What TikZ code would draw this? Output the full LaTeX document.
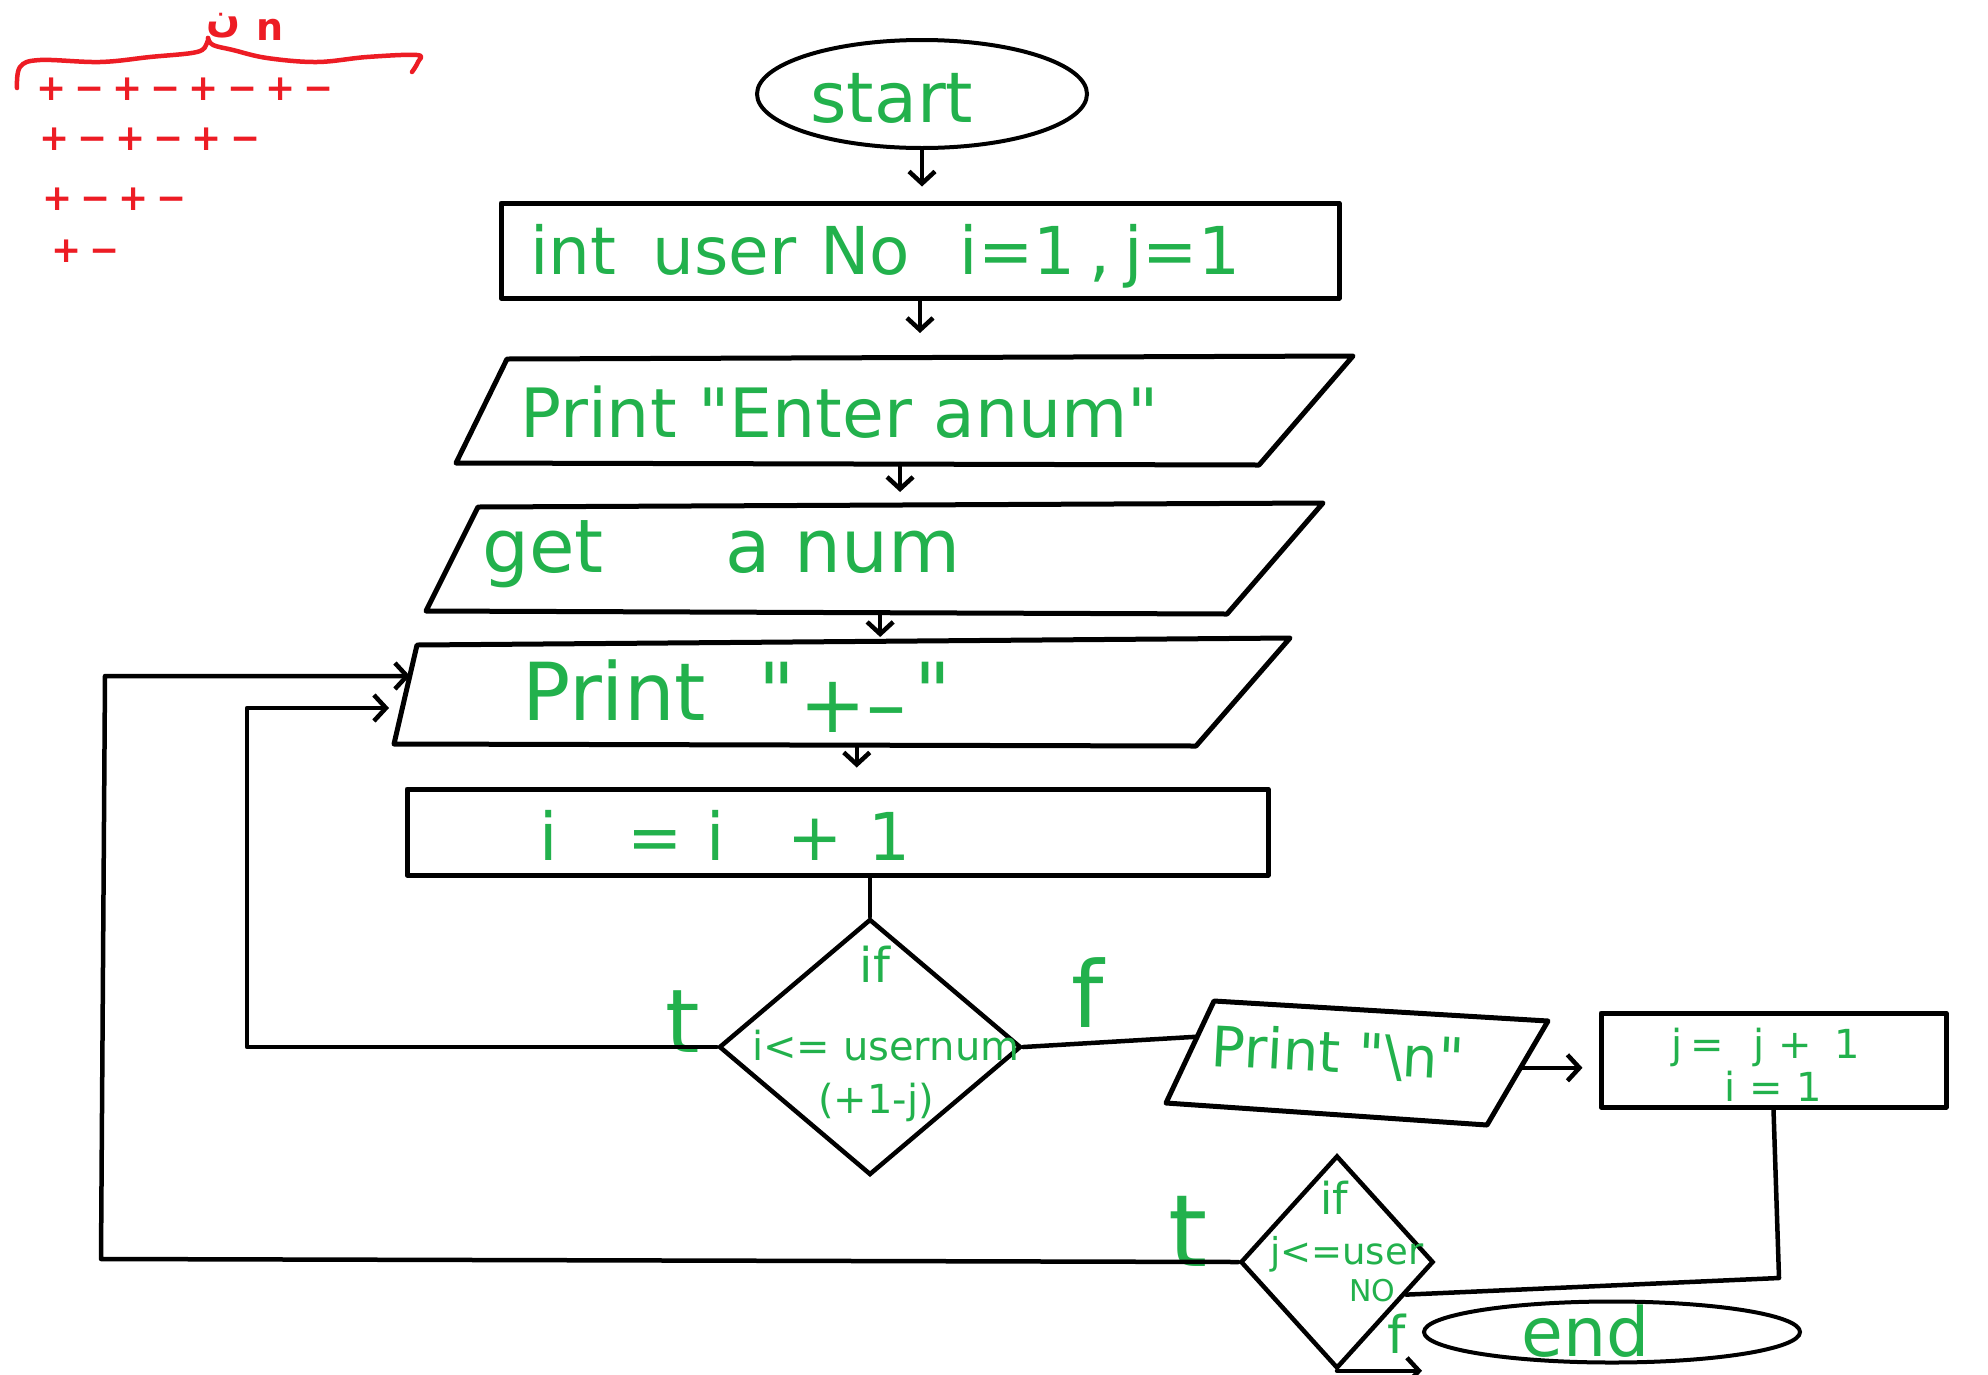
\documentclass[tikz,border=0pt]{standalone}
\usepackage{fontspec}
\setmainfont{DejaVu Sans}
\newfontfamily\arabicfont[Script=Arabic]{DejaVu Sans}
\TeXXeTstate=1
\usetikzlibrary{shapes.geometric,arrows.meta,calc}
\definecolor{pgreen}{RGB}{34,177,76}
\definecolor{pred}{RGB}{237,28,36}
\newcommand{\qq}{\textquotedbl}
\tikzset{
 fs/.style={font=\fontsize{#1}{#1}\selectfont},
 gtxt/.style={text=pgreen, inner sep=0pt, fs=#1},
 rtxt/.style={text=pred, inner sep=0pt, font=\fontsize{#1}{#1}\selectfont\bfseries},
 shp/.style={draw=black, line width=5pt, line join=round, inner sep=0pt},
 rectbox/.style={shp, rectangle},
 dia/.style={draw=black, line width=4.5pt, diamond, inner sep=0pt},
 term/.style={draw=black, line width=4pt, ellipse, inner sep=0pt},
 conn/.style={line width=4.5pt, line join=round, line cap=round},
 arr/.style={conn, -{Straight Barb[length=12pt,width=26pt,line width=4.5pt]}},
}
\begin{document}
\begin{tikzpicture}[x=1pt,y=-1pt]
\useasboundingbox (0,0) rectangle (1988,1374);
\fill[white] (0,0) rectangle (1988,1374);

% red notes
\draw[pred, line width=4.5pt, line cap=round, line join=round] plot[smooth, tension=0.6] coordinates {(17,88) (20,67) (40,60) (100,62) (150,57) (197,52) (207,43) (208,38)};
\draw[pred, line width=4.5pt, line cap=round, line join=round] plot[smooth, tension=0.6] coordinates {(208,38) (213,45) (233,50) (267,58) (317,62) (367,57) (417,55) (418,62) (412,72)};
\node[rtxt=40] (ar) at (224,26) {\arabicfont\beginR ن\endR};
\node[rtxt=38] (rn) at (270,30) {n};
\node[rtxt=36, anchor=west] (r1) at (36,89) {+\hspace{8pt}−\hspace{8pt}+\hspace{8pt}−\hspace{8pt}+\hspace{8pt}−\hspace{8pt}+\hspace{8pt}−};
\node[rtxt=36, anchor=west] (r2) at (39,139) {+\hspace{8pt}−\hspace{8pt}+\hspace{8pt}−\hspace{8pt}+\hspace{8pt}−};
\node[rtxt=36, anchor=west] (r3) at (42,199) {+\hspace{8pt}−\hspace{8pt}+\hspace{8pt}−};
\node[rtxt=36, anchor=west] (r4) at (51,251) {+\hspace{8pt}−};

% corner points of the slanted boxes
\coordinate (p1tl) at (507,359); \coordinate (p1tr) at (1353,356);
\coordinate (p1br) at (1259,465); \coordinate (p1bl) at (456,463);
\coordinate (p2tl) at (478,507); \coordinate (p2tr) at (1323,503);
\coordinate (p2br) at (1227,614); \coordinate (p2bl) at (426,611);
\coordinate (p3tl) at (417,645); \coordinate (p3tr) at (1290,638);
\coordinate (p3br) at (1196,746); \coordinate (p3bl) at (394,744);
\coordinate (p4tl) at (1214,1001); \coordinate (p4tr) at (1548,1021);
\coordinate (p4br) at (1487,1125); \coordinate (p4bl) at (1166,1103);

% shapes
\node[term, minimum width=330pt, minimum height=108pt] (start) at (922,94) {};
\node[gtxt=70, anchor=base west] (tstart) at (810,122) {start};

\node[rectbox, minimum width=838pt, minimum height=95pt] (box1) at (920,250.5) {};
\node[gtxt=66, anchor=base west] (tbox1) at (530,274) {int\hspace{36pt}user\hspace{24pt}No\hspace{50pt}i=1\hspace{14pt},\hspace{14pt}j=1};

\draw[shp] (p1tl) -- (p1tr) -- (p1br) -- (p1bl) -- cycle;
\node[gtxt=68, anchor=base west] (tp1) at (520,437) {Print \qq Enter anum\qq};

\draw[shp] (p2tl) -- (p2tr) -- (p2br) -- (p2bl) -- cycle;
\node[gtxt=74, anchor=base west] (tp2) at (482,572) {get\hspace{122pt}a num};

\draw[shp] (p3tl) -- (p3tr) -- (p3br) -- (p3bl) -- cycle;
\node[gtxt=80, anchor=base west] (tp3) at (522,720) {Print\hspace{52pt}\qq\hspace{4pt}\raisebox{-12pt}{+–}\hspace{8pt}\qq};

\node[rectbox, minimum width=861pt, minimum height=86pt] (ibox) at (837.5,832) {};
\node[gtxt=66, anchor=base west] (tibox) at (539,860) {i\hspace{70pt}=\hspace{24pt}i\hspace{62pt}+\hspace{26pt}1};

\node[dia, minimum width=302pt, minimum height=256pt] (d1) at (870,1047) {};
\node[gtxt=48] (td1a) at (875,964) {if};
\node[gtxt=40, anchor=base west] (td1b) at (752,1060) {i<= usernum};
\node[gtxt=40, anchor=base west] (td1c) at (818,1113) {(+1-j)};
\node[gtxt=88, anchor=base] (t1) at (683,1052) {t};
\node[gtxt=92] (f1) at (1088,993) {f};

\draw[shp] (p4tl) -- (p4tr) -- (p4br) -- (p4bl) -- cycle;
\node[gtxt=56, rotate=-3] (tp4) at (1338,1054) {Print \qq\textbackslash n\qq};

\node[rectbox, minimum width=345pt, minimum height=94pt] (jbox) at (1773.5,1060) {};
\node[gtxt=40, anchor=base west] (tj1) at (1671,1058) {j\hspace{8pt}=\hspace{30pt}j\hspace{14pt}+\hspace{22pt}1};
\node[gtxt=40, anchor=base west] (tj2) at (1724,1101) {i\hspace{14pt}=\hspace{14pt}1};

\node[dia, minimum width=193pt, minimum height=213pt] (d2) at (1337,1262) {};
\node[gtxt=44] (td2a) at (1334,1198) {if};
\node[gtxt=37, anchor=base west] (td2b) at (1270,1264) {j<=user};
\node[gtxt=30, anchor=base west] (td2c) at (1349,1301) {NO};
\node[gtxt=100, anchor=base] (t2) at (1188,1266) {t};
\node[gtxt=52] (f2) at (1397,1334) {f};

\node[term, minimum width=376pt, minimum height=61pt] (endn) at (1612,1332) {};
\node[gtxt=68, anchor=base west] (tend) at (1521,1356) {end};

% connector points
\coordinate (in1) at (389,708);
\coordinate (in2) at (410,676);
\coordinate (lp1b) at (247,1047);
\coordinate (lp1t) at (247,708);
\coordinate (lp2b) at (101,1259);
\coordinate (lp2t) at (105,676);
\coordinate (jr) at (1779,1278);
\coordinate (o1) at ($(p1bl)!0.553!(p1br)$);
\coordinate (o2) at ($(p2bl)!0.567!(p2br)$);
\coordinate (o3) at ($(p3bl)!0.577!(p3br)$);
\coordinate (p4o) at ($(p4tr)!0.45!(p4br)$);
\coordinate (p4i) at ($(p4tl)!0.35!(p4bl)$);

% connectors
\draw[arr, shorten >=14pt] (start.south) -- (start.south |- box1.north);
\draw[arr, shorten >=26pt] (box1.south) -- (box1.south |- p1tl);
\draw[arr, shorten >=15pt] (o1) -- (o1 |- p2tl);
\draw[arr, shorten >=8pt] (o2) -- (o2 |- p3tl);
\draw[arr, shorten >=19pt] (o3) -- (o3 |- ibox.north);
\draw[conn] (d1.north |- ibox.south) -- (d1.north);
\draw[arr] (d1.west) -- (lp1b) -- (lp1t) -- (in1);
\draw[conn] (d1.east) -- (p4i);
\draw[arr, shorten >=16pt] (p4o) -- (p4o -| jbox.west);
\draw[conn] (jbox.south) -- (jr) -- ($(d2.east)!0.3!(d2.south)$);
\draw[arr] (d2.south) -- (d2.south -| endn.west);
\draw[arr] (d2.west) -- (lp2b) -- (lp2t) -- (in2);
\end{tikzpicture}
\end{document}
